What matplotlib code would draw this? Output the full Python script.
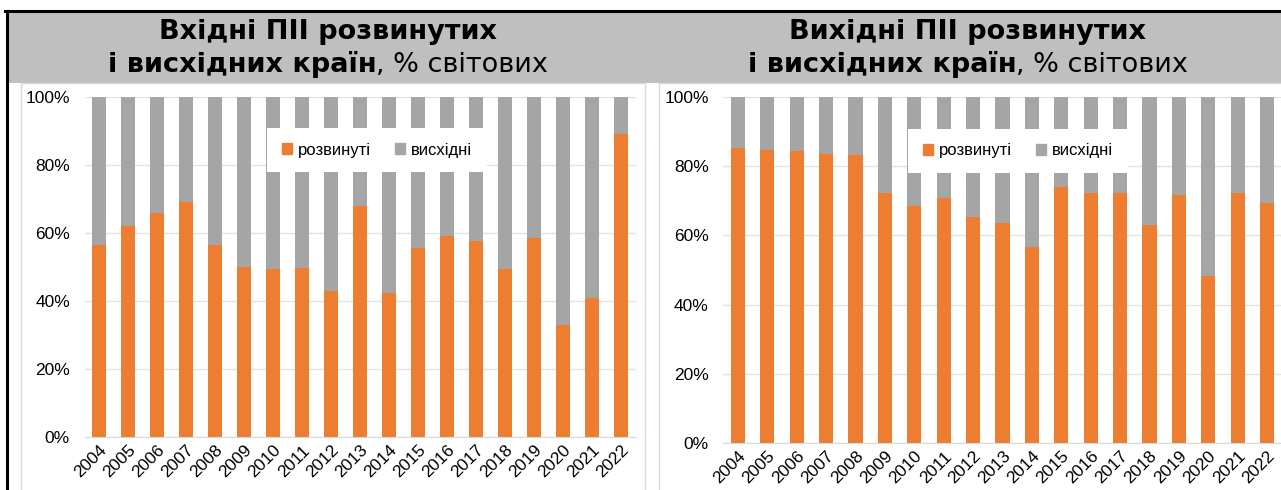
import matplotlib.pyplot as plt
from matplotlib.patches import Patch, Rectangle
from matplotlib.lines import Line2D
from matplotlib.ticker import PercentFormatter

plt.rcParams['font.family'] = ['Liberation Sans', 'DejaVu Sans']

years = [str(y) for y in range(2004, 2023)]
# share of developed countries, % of world
inward_dev = [56.5, 62, 66, 69, 56.5, 50, 49.4, 49.7, 43, 68, 42.4, 55.6, 59, 57.6, 49.4, 58.5, 33, 41, 89]
outward_dev = [85.3, 84.7, 84.4, 83.5, 83.2, 72.3, 68.5, 70.8, 65.3, 63.6, 56.6, 74, 72.3, 72.3, 63, 71.7, 48.3, 72.3, 69.4]

ORANGE = '#ED7D31'
GREY = '#A5A5A5'
W, H = 1281, 490

fig = plt.figure(figsize=(W / 100, H / 100), dpi=100)

def fx(px):
    return px / W

def fy(py):
    return 1 - py / H

# background pieces
fig.patches.append(Rectangle((fx(7), fy(83)), fx(W - 7), 71 / H, transform=fig.transFigure,
                             facecolor='#BFBFBF', edgecolor='none', zorder=-2))
for x0, x1 in [(21, 645), (659, 1290)]:
    fig.patches.append(Rectangle((fx(x0), 0 - 0.01), fx(x1 - x0), fy(83) + 0.01, transform=fig.transFigure,
                                 facecolor='white', edgecolor='#D9D9D9', lw=1, zorder=-2))
fig.lines.append(Line2D([fx(5), 1], [fy(11), fy(11)], transform=fig.transFigure, color='black', lw=2.2))
fig.lines.append(Line2D([fx(6.5), fx(6.5)], [0, fy(11)], transform=fig.transFigure, color='black', lw=2.2))


def draw(rect, dev, ttl, cx, leg_xy):
    ax = fig.add_axes(rect)
    x = range(len(years))
    emg = [100 - v for v in dev]
    ax.bar(x, dev, width=0.48, color=ORANGE, zorder=2)
    ax.bar(x, emg, bottom=dev, width=0.48, color=GREY, zorder=2)
    ax.set_xlim(-0.5, len(years) - 0.5)
    ax.set_ylim(0, 100)
    ax.set_yticks(range(0, 101, 20))
    ax.yaxis.set_major_formatter(PercentFormatter(decimals=0))
    ax.set_xticks(list(x))
    ax.set_xticklabels(years, rotation=45, ha='right', rotation_mode='anchor', fontsize=12.5)
    ax.tick_params(axis='y', labelsize=12.5, length=0, pad=10.5)
    ax.tick_params(axis='x', length=0, pad=4)
    ax.grid(axis='y', color='#E3E3E3', lw=1, zorder=0)
    for s in ['top', 'right', 'left']:
        ax.spines[s].set_visible(False)
    ax.spines['bottom'].set_color('#D9D9D9')
    ax.patch.set_alpha(0)
    handles = [Patch(color=ORANGE, label='розвинуті'), Patch(color=GREY, label='висхідні')]
    leg = ax.legend(handles=handles, loc='center', bbox_to_anchor=leg_xy, bbox_transform=fig.transFigure,
                    ncol=2, frameon=True, fontsize=12, handlelength=0.65, handleheight=0.65,
                    handletextpad=0.35, columnspacing=1.4, borderpad=0.85, fancybox=False)
    leg.get_frame().set_edgecolor('none')
    leg.get_frame().set_facecolor('white')
    leg.get_frame().set_alpha(1)

    # title: bold part + regular part
    fig.text(fx(cx), fy(32), ttl, ha='center', va='center', fontsize=19.5, weight='bold',
             family=['DejaVu Sans'])
    t1 = fig.text(0, fy(65), 'і висхідних країн', ha='left', va='center', fontsize=19.5, weight='bold',
                  family=['DejaVu Sans'])
    t2 = fig.text(0, fy(65), ', % світових', ha='left', va='center', fontsize=19.5,
                  family=['DejaVu Sans'])
    r = fig.canvas.get_renderer()
    w1 = t1.get_window_extent(r).width
    w2 = t2.get_window_extent(r).width
    start = cx - (w1 + w2) / 2
    t1.set_x(fx(start))
    t2.set_x(fx(start + w1))


draw([fx(84.5), fy(437), fx(551), 340 / H], inward_dev, 'Вхідні ПІІ розвинутих', 328, (fx(377), fy(150)))
draw([fx(723.3), fy(443), fx(558.4), 346 / H], outward_dev, 'Вихідні ПІІ розвинутих', 968, (fx(1018), fy(151)))

fig.savefig('out.png', dpi=100)
